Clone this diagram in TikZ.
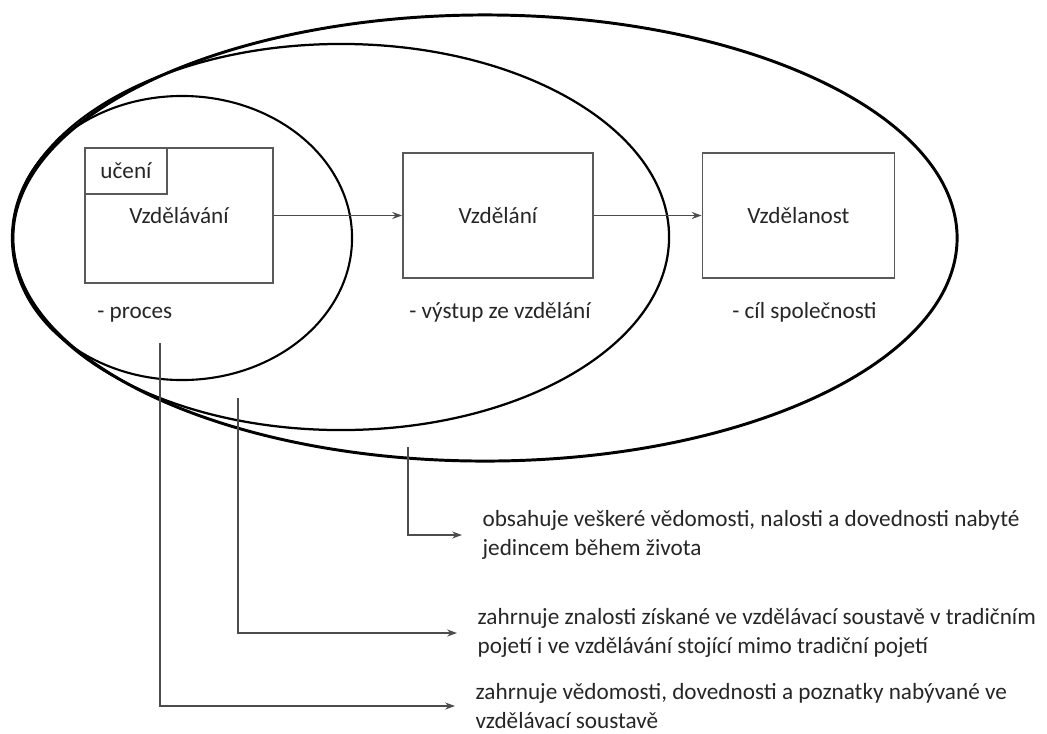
\documentclass[tikz,border=0pt]{standalone}
\usepackage{fontspec}
\setmainfont{Carlito}
\usetikzlibrary{arrows.meta}

\begin{document}
\begin{tikzpicture}[x=0.025cm, y=-0.025cm,
    every node/.style={font=\fontsize{16.5}{20.5}\selectfont, text=black!85},
    box/.style={draw=black!65, line width=1.2pt, rectangle, inner sep=0pt},
    flow/.style={-{Stealth[length=7pt,width=5pt]}, line width=1pt, draw=black!70},
    note/.style={anchor=west, align=left, inner xsep=14.5pt, inner ysep=0pt},
    sub/.style={anchor=base west, inner sep=0pt}]
    \useasboundingbox (0,0) rectangle (1047,733);

    % nested circles
    \draw[line width=2.1pt] (485,238) ellipse [x radius=11.8cm, y radius=5.575cm];
    \draw[line width=1.6pt] (341,237) ellipse [x radius=8.2cm, y radius=4.825cm];
    \draw[line width=1.5pt] (182,238) ellipse [x radius=4.25cm, y radius=3.55cm];

    \node[box, minimum width=4.7cm, minimum height=3.375cm] (vzdelavani) at (179,215.5) {Vzdělávání};
    \node[box, anchor=north west, minimum width=2.05cm, minimum height=1.15cm] (uceni) at (vzdelavani.north west) {učení};
    \node[box, minimum width=4.75cm, minimum height=3.125cm] (vzdelani) at (498,215.5) {Vzdělání};
    \node[box, minimum width=4.8cm, minimum height=3.125cm] (vzdelanost) at (798.5,215.5) {Vzdělanost};

    \node[sub] (proces) at (97,318) {- proces};
    \node[sub] (vystup) at (409,318) {- výstup ze vzdělání};
    \node[sub] (cil) at (732,318) {- cíl společnosti};

    \draw[flow] (vzdelavani) -- (vzdelani);
    \draw[flow] (vzdelani) -- (vzdelanost);

    % explanations
    \node[note] (obsah) at (462,535) {obsahuje veškeré vědomosti, nalosti a dovednosti nabyté\\jedincem během života};
    \node[note] (znalosti) at (457,633) {zahrnuje znalosti získané ve vzdělávací soustavě v tradičním\\pojetí i ve vzdělávání stojící mimo tradiční pojetí};
    \node[note] (vedomosti) at (455,706) {zahrnuje vědomosti, dovednosti a poznatky nabývané ve\\vzdělávací soustavě};

    \coordinate (from outer) at (408,447);
    \coordinate (from middle) at (238,398);
    \coordinate (from inner) at (160,343);

    \draw[flow] (from outer) |- (obsah.west);
    \draw[flow] (from middle) |- (znalosti.west);
    \draw[flow] (from inner) |- (vedomosti.west);
\end{tikzpicture}
\end{document}
